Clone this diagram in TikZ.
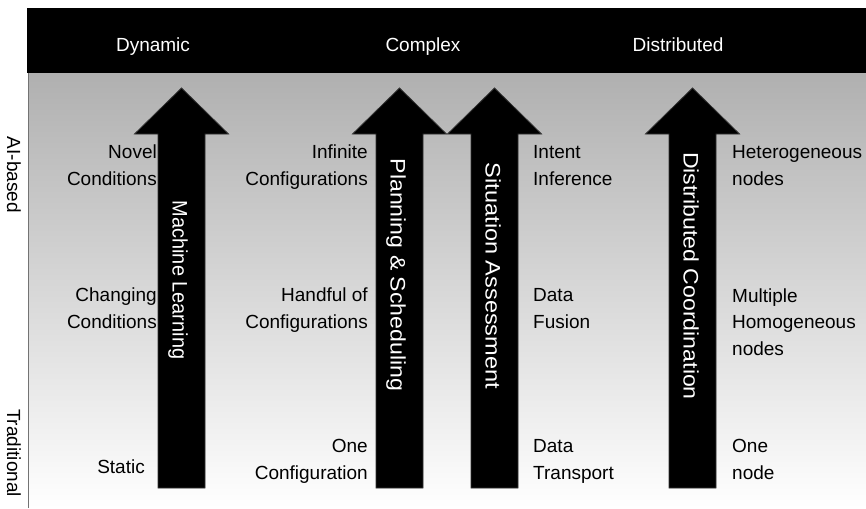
\documentclass[tikz,border=0pt]{standalone}
\usepackage{fontspec}
\setmainfont{Liberation Sans}
\begin{document}
\begin{tikzpicture}[x=1pt,y=-1pt,
  lbl/.style={font=\fontsize{19}{26.5}\selectfont, inner sep=0pt, text=black},
  hdr/.style={font=\fontsize{19}{23}\selectfont, inner sep=0pt, text=white},
  side/.style={font=\fontsize{19}{23}\selectfont, inner sep=0pt, rotate=-90, anchor=base},
  arrowtxt/.style={font=\fontsize{21}{25}\selectfont, inner sep=0pt, text=white, rotate=-90, anchor=base},
  bigarrow/.style={fill=black, draw=black!80, line width=0.8pt, line join=miter}
]
\useasboundingbox (0,0) rectangle (866,508);

% shaded body and black title band
\shade[top color=black!31, bottom color=white] (28,73) rectangle (866,508);
\draw[black!55, line width=1pt] (28,508) -- (28,73) -- (866,73);
\fill[black] (27,8) rectangle (866,73);

\node[hdr, anchor=base] (dyn) at (153,52) {Dynamic};
\node[hdr, anchor=base] (cpx) at (423,52) {Complex};
\node[hdr, anchor=base] (dst) at (678,52) {Distributed};

% vertical axis captions
\node[side] (ai) at (7,175) {AI-based};
\node[side] (trad) at (7,453) {Traditional};

% the four upward arrows
\foreach \cx/\nm in {181.5/ml, 399.5/ps, 494.5/sa, 692.5/dc}{
  \draw[bigarrow] (\cx-23.5,488) -- (\cx-23.5,134) -- (\cx-47,134) -- (\cx,88)
    -- (\cx+47,134) -- (\cx+23.5,134) -- (\cx+23.5,488) -- cycle;
  \coordinate (\nm-tip) at (\cx,88);
}
\node[arrowtxt, xscale=0.95] (mlt) at (172.5,280) {Machine Learning};
\node[arrowtxt, xscale=1.1] (pst) at (390.5,275) {Planning \& Scheduling};
\node[arrowtxt, xscale=1.12] (sat) at (485.5,276) {Situation Assessment};
\node[arrowtxt, xscale=1.1] (dct) at (683.5,276) {Distributed Coordination};

% Machine Learning column (anchors sit on the last line)
\node[lbl, align=right, anchor=base east] (novel) at (157,185) {Novel\\Conditions};
\node[lbl, align=right, anchor=base east] (chg) at (157,328) {Changing\\Conditions};
\node[lbl, anchor=base east] (static) at (145,473) {Static};

% Planning & Scheduling column
\node[lbl, align=right, anchor=base east] (inf) at (368,185) {Infinite\\Configurations};
\node[lbl, align=right, anchor=base east] (hnd) at (368,328) {Handful of\\Configurations};
\node[lbl, align=right, anchor=base east] (one) at (368,479) {One\\Configuration};

% Situation Assessment column
\node[lbl, align=left, anchor=base west] (intent) at (533,185) {Intent\\Inference};
\node[lbl, align=left, anchor=base west] (fusion) at (533,328) {Data\\Fusion};
\node[lbl, align=left, anchor=base west] (transp) at (533,479) {Data\\Transport};

% Distributed Coordination column
\node[lbl, align=left, anchor=base west] (het) at (732,185) {Heterogeneous\\nodes};
\node[lbl, align=left, anchor=base west] (hom) at (732,355) {Multiple\\Homogeneous\\nodes};
\node[lbl, align=left, anchor=base west] (onen) at (732,479) {One\\node};
\end{tikzpicture}
\end{document}
